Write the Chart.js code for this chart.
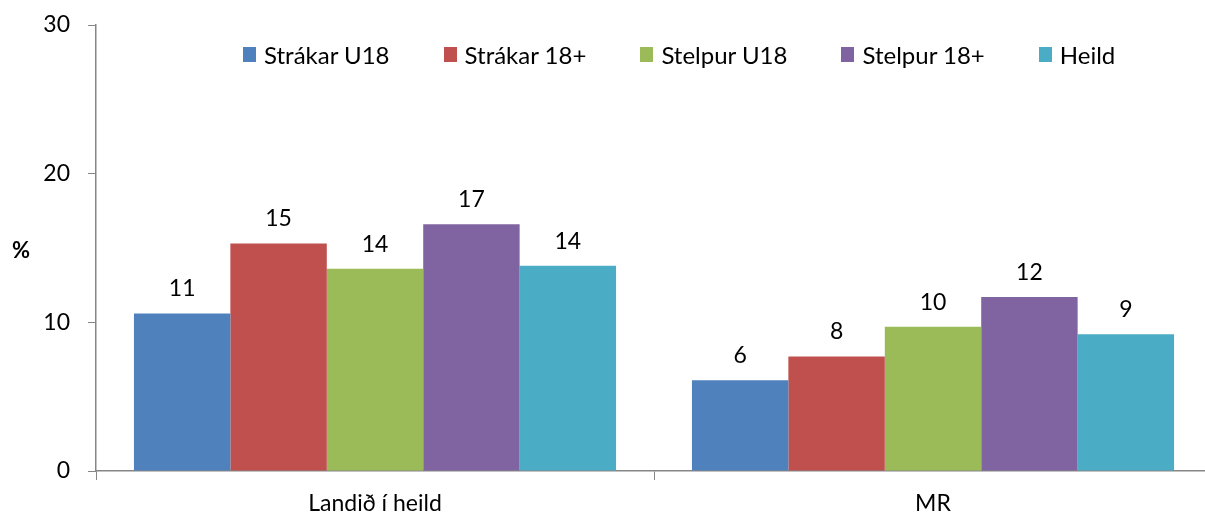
<!DOCTYPE html>
<html>
<head>
<meta charset="utf-8">
<script src="https://cdn.jsdelivr.net/npm/chart.js@4"></script>
<style>
  html, body { margin: 0; padding: 0; background: #fff; overflow: hidden; }
  #wrap { position: relative; width: 1213px; height: 518px; }
  #yTitle { position: absolute; left: 12px; top: 236px; font: bold 22px Lato, sans-serif; color: #000; }
  #legend { position: absolute; left: 243px; top: 40px; display: flex; font: 24px Lato, sans-serif; color: #000; }
  #legend .item { display: flex; align-items: center; margin-right: 54px; }
  #legend .box { width: 13px; height: 15px; margin-right: 8px; }
</style>
</head>
<body>
<div id="wrap">
  <canvas id="chart" width="1213" height="518"></canvas>
  <div id="yTitle">%</div>
  <div id="legend"></div>
</div>
<script>
const categories = ['Landið í heild', 'MR'];
const seriesNames = ['Strákar U18', 'Strákar 18+', 'Stelpur U18', 'Stelpur 18+', 'Heild'];
const strakarU18 = [10.6, 6.1];
const strakar18 = [15.3, 7.7];
const stelpurU18 = [13.6, 9.7];
const stelpur18 = [16.6, 11.7];
const heild = [13.8, 9.2];
const yTicks = [0, 10, 20, 30];

const colors = ['#4F81BD', '#C0504D', '#9BBB59', '#8064A2', '#4BACC6'];
const seriesValues = [strakarU18, strakar18, stelpurU18, stelpur18, heild];

// legend as html
const legendEl = document.getElementById('legend');
seriesNames.forEach((name, i) => {
  const item = document.createElement('div');
  item.className = 'item';
  item.innerHTML = '<span class="box" style="background:' + colors[i] + '"></span>' + name;
  legendEl.appendChild(item);
});

// draws rounded values above each bar
const valueLabels = {
  id: 'valueLabels',
  afterDatasetsDraw(chart) {
    const ctx = chart.ctx;
    ctx.save();
    ctx.font = '23px Lato, sans-serif';
    ctx.fillStyle = '#000';
    ctx.textAlign = 'center';
    ctx.textBaseline = 'bottom';
    chart.data.datasets.forEach((ds, i) => {
      chart.getDatasetMeta(i).data.forEach((bar, j) => {
        ctx.fillText(Math.round(ds.data[j]), bar.x, bar.y - 13);
      });
    });
    ctx.restore();
  }
};

new Chart(document.getElementById('chart'), {
  type: 'bar',
  data: {
    labels: categories,
    datasets: seriesNames.map((name, i) => ({
      label: name,
      data: seriesValues[i],
      backgroundColor: colors[i],
      borderWidth: 0
    }))
  },
  options: {
    responsive: false,
    animation: false,
    layout: { padding: { top: 25, right: 1, left: 0, bottom: 0 } },
    datasets: { bar: { categoryPercentage: 0.864, barPercentage: 1 } },
    plugins: { legend: { display: false }, tooltip: { enabled: false } },
    scales: {
      x: {
        grid: { drawOnChartArea: false, color: '#868686', tickLength: 9, offset: true },
        border: { color: '#868686', width: 1.5 },
        ticks: { font: { family: 'Lato', size: 23 }, color: '#000', padding: 10 },
        afterFit(scale) { scale.height = 47; }
      },
      y: {
        min: 0,
        max: 30,
        afterBuildTicks(scale) { scale.ticks = yTicks.map(v => ({ value: v })); },
        grid: { drawOnChartArea: false, color: '#868686', tickLength: 8 },
        border: { color: '#868686', width: 1.5 },
        ticks: { font: { family: 'Lato', size: 23 }, color: '#000', padding: 18 },
        afterFit(scale) {
          scale.width = 96;
          scale.paddingTop = 0;
          scale.paddingBottom = 0;
        }
      }
    }
  },
  plugins: [valueLabels]
});
</script>
</body>
</html>
